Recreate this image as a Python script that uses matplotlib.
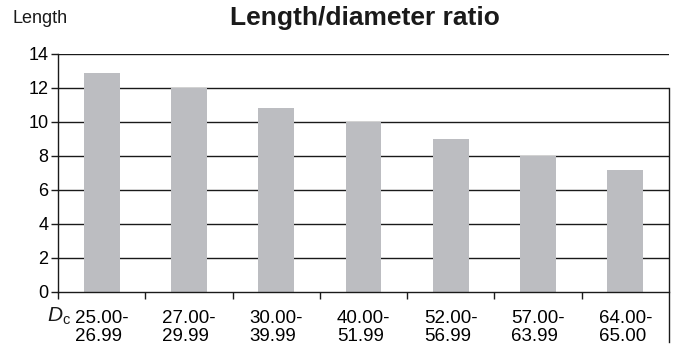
import matplotlib
matplotlib.use("Agg")
import matplotlib.pyplot as plt
import numpy as np

categories = ["25.00-\n26.99", "27.00-\n29.99", "30.00-\n39.99", "40.00-\n51.99",
              "52.00-\n56.99", "57.00-\n63.99", "64.00-\n65.00"]
values = [12.9, 12.0, 10.85, 10.0, 9.0, 8.0, 7.2]
yticks = [0, 2, 4, 6, 8, 10, 12, 14]

plt.rcParams['font.family'] = ['Liberation Sans', 'DejaVu Sans']
plt.rcParams['mathtext.fontset'] = 'custom'
plt.rcParams['mathtext.rm'] = 'Liberation Sans'
plt.rcParams['mathtext.it'] = 'Liberation Sans:italic'

W, H = 674, 347
fig = plt.figure(figsize=(W / 100, H / 100), dpi=100)
ax = fig.add_axes([58 / W, (H - 292) / H, (669 - 58) / W, (292 - 54) / H])

x = np.arange(len(categories))
ax.bar(x, values, width=0.41, color="#bcbdc1", zorder=2)

ax.set_xlim(-0.5, len(categories) - 0.5)
ax.set_ylim(0, 14)
ax.set_yticks(yticks)
ax.set_yticklabels([str(v) for v in yticks], fontsize=13)
for v in yticks[1:]:
    ax.axhline(v, color="#1a1a1a", lw=1.0, zorder=1)

ax.set_xticks(x)
ax.set_xticklabels(categories, fontsize=13.5, linespacing=1.1, multialignment="left")
ax.set_xticks(np.arange(-0.5, len(categories) - 0.5, 1), minor=True)
ax.tick_params(axis="x", which="major", length=0, pad=13)
ax.tick_params(axis="x", which="minor", length=5, width=1, direction="out", color="#1a1a1a")
ax.tick_params(axis="y", length=5, width=1, direction="out", color="#1a1a1a", pad=2)

for s in ["top", "right"]:
    ax.spines[s].set_visible(False)
for s in ["left", "bottom"]:
    ax.spines[s].set_color("#1a1a1a")
    ax.spines[s].set_linewidth(1.0)

# right-hand vertical rule
ax.plot([1, 1], [12 / 14, -(342 - 292) / (292 - 54)], transform=ax.transAxes,
        color="#1a1a1a", lw=1.0, clip_on=False)

fig.text(365 / W, (H - 25) / H, "Length/diameter ratio", fontsize=19,
         fontweight="bold", ha="center", va="baseline", color="#1a1a1a")
fig.text(12 / W, (H - 23) / H, "Length", fontsize=13, ha="left", va="baseline", color="#1a1a1a")

fig.text(47 / W, (H - 322) / H, r"$\mathit{D}_{\mathrm{c}}$", fontsize=15, ha="left",
         va="baseline", color="#1a1a1a")

fig.savefig("out.png", dpi=100)
